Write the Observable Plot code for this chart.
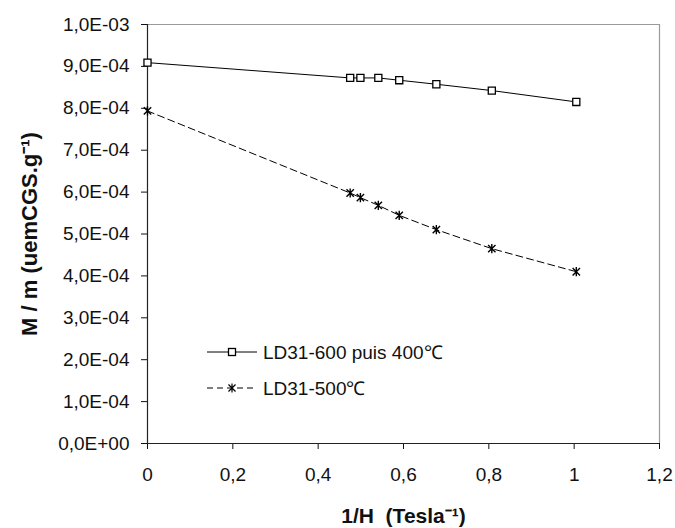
<!DOCTYPE html>
<html>
<head>
<meta charset="utf-8">
<script src="https://cdn.jsdelivr.net/npm/d3@7"></script>
<script src="https://cdn.jsdelivr.net/npm/@observablehq/plot@0.6"></script>
<style>
  html, body { margin: 0; padding: 0; background: white; }
  #wrap { position: relative; width: 675px; height: 528px; }
  #legend { position: absolute; left: 0; top: 0; pointer-events: none; }
</style>
</head>
<body>
<div id="wrap"></div>
<script>
// Data
const xValues = [0, 0.475, 0.499, 0.541, 0.590, 0.677, 0.807, 1.005];
const series600puis400 = [9.09e-4, 8.725e-4, 8.725e-4, 8.725e-4, 8.67e-4, 8.574e-4, 8.423e-4, 8.152e-4];
const series500 = [7.937e-4, 5.978e-4, 5.868e-4, 5.684e-4, 5.445e-4, 5.104e-4, 4.65e-4, 4.10e-4];
const seriesNames = ["LD31-600 puis 400\u2103", "LD31-500\u2103"];

const xTicks = [0, 0.2, 0.4, 0.6, 0.8, 1, 1.2];
const xTickLabels = ["0", "0,2", "0,4", "0,6", "0,8", "1", "1,2"];
const yTicks = [0, 1e-4, 2e-4, 3e-4, 4e-4, 5e-4, 6e-4, 7e-4, 8e-4, 9e-4, 1e-3];
const yTickLabels = ["0,0E+00", "1,0E-04", "2,0E-04", "3,0E-04", "4,0E-04", "5,0E-04",
  "6,0E-04", "7,0E-04", "8,0E-04", "9,0E-04", "1,0E-03"];
const xTitle = "1/H\u00a0 (Tesla\u207B\u00B9)";
const yTitle = "M / m (uemCGS.g\u207B\u00B9)";

const d600 = xValues.map((x, i) => ({x, y: series600puis400[i]}));
const d500 = xValues.map((x, i) => ({x, y: series500[i]}));

// Excel-style star marker: an X plus a vertical bar
const excelStar = {
  draw(ctx, size) {
    const r = Math.sqrt(size / Math.PI);
    const a = r * 0.8;
    ctx.moveTo(0, -r); ctx.lineTo(0, r);
    ctx.moveTo(-a, -a); ctx.lineTo(a, a);
    ctx.moveTo(-a, a); ctx.lineTo(a, -a);
  }
};

const chart = Plot.plot({
  width: 675,
  height: 528,
  marginLeft: 147,
  marginRight: 16,
  marginTop: 24,
  marginBottom: 85,
  style: {fontFamily: "'Liberation Sans', Arial, sans-serif", fontSize: "19px", color: "#111", background: "white"},
  x: {domain: [0, 1.2]},
  y: {domain: [0, 1e-3]},
  marks: [
    Plot.ruleY([1e-3], {stroke: "#9a9a9a", strokeWidth: 1.2}),
    Plot.ruleX([1.2], {stroke: "#9a9a9a", strokeWidth: 1.2}),
    Plot.axisX(xTicks, {tickFormat: d => xTickLabels[xTicks.indexOf(d)], tickSize: 6, tickPadding: 18, label: null, fontSize: 19}),
    Plot.axisY(yTicks, {tickFormat: d => yTickLabels[yTicks.indexOf(d)], tickSize: 6, tickPadding: 12, label: null, fontSize: 19}),
    Plot.ruleX([0], {stroke: "#222", strokeWidth: 1.2}),
    Plot.ruleY([0], {stroke: "#222", strokeWidth: 1.2}),
    Plot.line(d600, {x: "x", y: "y", stroke: "black", strokeWidth: 1}),
    Plot.line(d500, {x: "x", y: "y", stroke: "black", strokeWidth: 1, strokeDasharray: "7,4"}),
    Plot.dot(d600, {x: "x", y: "y", symbol: "square", r: 4, fill: "white", stroke: "black", strokeWidth: 1.3}),
    Plot.dot(d500, {x: "x", y: "y", symbol: excelStar, r: 4.6, fill: "none", stroke: "black", strokeWidth: 1.4}),
    Plot.text([yTitle], {text: d => d, frameAnchor: "left", textAnchor: "middle", lineAnchor: "middle", rotate: -90, dx: -118, fontWeight: "bold", fontSize: 22, fill: "#111"}),
    Plot.text([xTitle], {text: d => d, frameAnchor: "bottom", textAnchor: "middle", lineAnchor: "middle", dy: 73, fontWeight: "bold", fontSize: 21, fill: "#111"})
  ]
});

const wrap = document.getElementById("wrap");
wrap.appendChild(chart);

// Legend overlay (inside the plot area, as in the reference)
const ns = "http://www.w3.org/2000/svg";
const leg = document.createElementNS(ns, "svg");
leg.setAttribute("id", "legend");
leg.setAttribute("width", 675);
leg.setAttribute("height", 528);
function el(tag, attrs, parent) {
  const e = document.createElementNS(ns, tag);
  for (const k in attrs) e.setAttribute(k, attrs[k]);
  (parent || leg).appendChild(e);
  return e;
}
// item 1
el("line", {x1: 207, x2: 257, y1: 352, y2: 352, stroke: "black", "stroke-width": 1});
el("rect", {x: 228.5, y: 348.5, width: 7, height: 7, fill: "white", stroke: "black", "stroke-width": 1.3});
const t1 = el("text", {x: 263, y: 358.5, "font-family": "'Liberation Sans', Arial, sans-serif", "font-size": 19, fill: "#111"});
t1.textContent = seriesNames[0];
// item 2
el("line", {x1: 207, x2: 257, y1: 388, y2: 388, stroke: "black", "stroke-width": 1, "stroke-dasharray": "6,4"});
const ast = d3.symbol(excelStar, Math.PI * 4.4 * 4.4)();
el("path", {d: ast, transform: "translate(232,388)", fill: "none", stroke: "black", "stroke-width": 1.2});
const t2 = el("text", {x: 263, y: 394.5, "font-family": "'Liberation Sans', Arial, sans-serif", "font-size": 19, fill: "#111"});
t2.textContent = seriesNames[1];
wrap.appendChild(leg);
</script>
</body>
</html>
